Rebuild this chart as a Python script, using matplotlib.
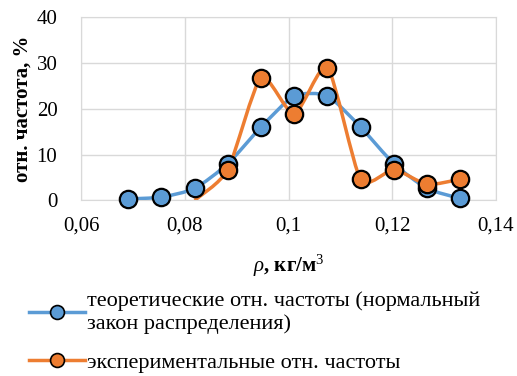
import matplotlib
matplotlib.use("Agg")
import matplotlib.pyplot as plt
import numpy as np
from matplotlib.path import Path
from matplotlib.patches import PathPatch
from matplotlib.lines import Line2D

# Data.
rho = [0.0691, 0.0755, 0.0819, 0.0883, 0.0947, 0.1011, 0.1075, 0.1139, 0.1203, 0.1267, 0.1331]
theor = [0.3, 0.7, 2.6, 8.0, 16.0, 22.8, 22.8, 16.0, 8.0, 2.6, 0.4]
exper = [np.nan, np.nan, 0.0, 6.7, 26.8, 18.8, 29.0, 4.6, 6.7, 3.5, 4.6]

labels = ["теоретические отн. частоты (нормальный\nзакон распределения)",
          "экспериментальные отн. частоты"]
BLUE = "#5B9BD5"
ORANGE = "#ED7D31"
GRID = "#D9D9D9"

plt.rcParams["font.family"] = ["Liberation Serif", "DejaVu Serif"]
plt.rcParams["mathtext.fontset"] = "custom"
plt.rcParams["mathtext.rm"] = "Liberation Serif"
plt.rcParams["mathtext.it"] = "Liberation Serif:italic"


def smooth_path(x, y, k=1 / 9):
    # Excel-like smoothed line: cubic Bezier through each point.
    P = np.column_stack([x, y])
    n = len(P)
    verts = [P[0]]
    codes = [Path.MOVETO]
    for i in range(n - 1):
        prev = P[i - 1] if i > 0 else P[i]
        nxt = P[i + 2] if i + 2 < n else P[i + 1]
        c1 = P[i] + (P[i + 1] - prev) * k
        c2 = P[i + 1] - (nxt - P[i]) * k
        verts += [c1, c2, P[i + 1]]
        codes += [Path.CURVE4] * 3
    return Path(verts, codes)


fig = plt.figure(figsize=(5.17, 3.76), dpi=100)
ax = fig.add_axes([0.1567, 0.4673, 0.8027, 0.4867])

x = np.array(rho)
yt = np.array(theor)
ye = np.array(exper)
ok = ~np.isnan(ye)

for xs, ys, col in [(x, yt, BLUE), (x[ok], ye[ok], ORANGE)]:
    ax.add_patch(PathPatch(smooth_path(xs, ys), facecolor="none",
                           edgecolor=col, lw=2.5, zorder=3, clip_on=True))

mk = dict(marker="o", ms=12.5, mew=1.6, mec="black", ls="none", zorder=4,
          clip_on=False)
ax.plot(x, yt, mfc=BLUE, **mk)
ax.plot(x[ok][1:], ye[ok][1:], mfc=ORANGE, **mk)

ax.set_xlim(0.06, 0.14)
ax.set_ylim(0, 40)
ax.set_xticks([0.06, 0.08, 0.1, 0.12, 0.14])
ax.set_xticklabels(["0,06", "0,08", "0,1", "0,12", "0,14"])
ax.set_yticks([0, 10, 20, 30, 40])
ax.grid(True, color=GRID, lw=1)
ax.set_axisbelow(True)
for s in ax.spines.values():
    s.set_color(GRID)
ax.tick_params(length=0, labelsize=15, pad=12)
ax.tick_params(axis="y", pad=17)

ax.set_xlabel(r"$\it{\rho}$, кг/м$^3$", fontsize=15, fontweight="bold", labelpad=12)
ax.set_ylabel("отн. частота, %", fontsize=15, fontweight="bold", labelpad=3)

handles = [Line2D([], [], color=BLUE, lw=2.5, marker="o", ms=10, mfc=BLUE,
                  mec="black", mew=1.2),
           Line2D([], [], color=ORANGE, lw=2.5, marker="o", ms=10, mfc=ORANGE,
                  mec="black", mew=1.2)]
fig.legend(handles, labels, loc="upper left", bbox_to_anchor=(0.035, 0.255),
           frameon=False, fontsize=16, handlelength=2.5, handletextpad=0.1,
           labelspacing=0.85, borderpad=0)

fig.savefig("out.png", dpi=100)
